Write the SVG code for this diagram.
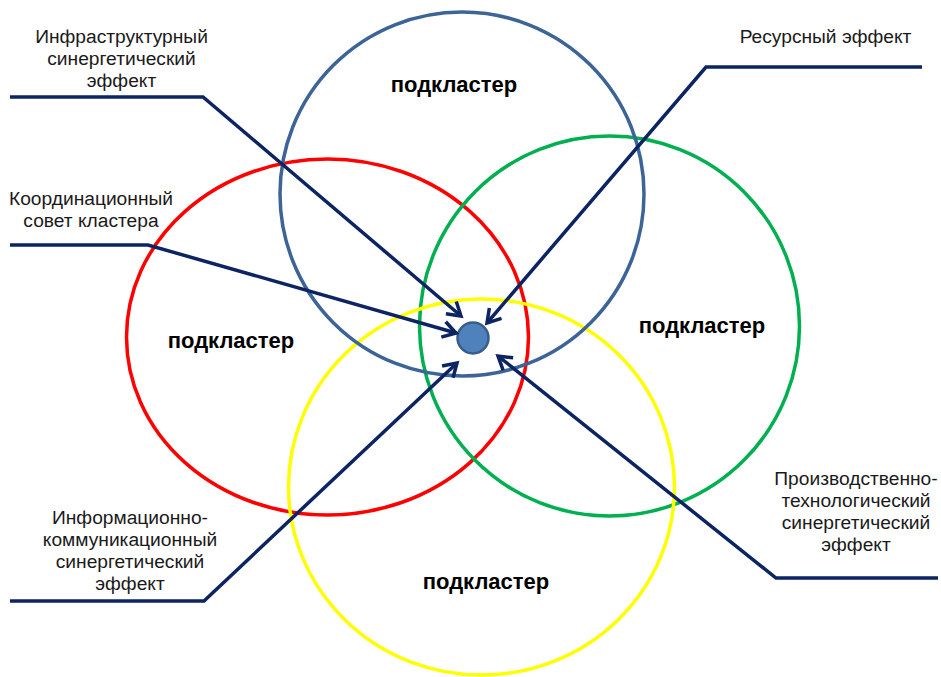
<svg xmlns="http://www.w3.org/2000/svg" width="941" height="677" viewBox="0 0 941 677">
<defs>
<style>
.c{fill:none;stroke-width:3.5}
.lbl{font-family:"Liberation Sans",Arial,sans-serif;font-size:19.2px;fill:#1a1a1a;text-anchor:middle}
.sub{font-family:"Liberation Sans",Arial,sans-serif;font-size:22px;font-weight:bold;fill:#000;text-anchor:middle}
.ar{fill:none;stroke:#0C2461;stroke-width:3.5;stroke-linejoin:miter}
</style>
<marker id="ah" markerUnits="userSpaceOnUse" markerWidth="20" markerHeight="20" viewBox="-16 -10 20 20" refX="0" refY="0" orient="auto">
<path d="M-13,-8 L0,0 L-13,8" fill="none" stroke="#0C2461" stroke-width="3.5"/>
</marker>
</defs>
<rect width="941" height="677" fill="#fff"/>
<g id="node-red"><ellipse class="c" cx="327.5" cy="337" rx="201" ry="178" stroke="#FF0000"/><text class="sub" x="231" y="348">подкластер</text></g>
<g id="node-green"><ellipse class="c" cx="609.5" cy="326" rx="190" ry="190" stroke="#00B050"/><text class="sub" x="702" y="333">подкластер</text></g>
<g id="node-yellow"><ellipse class="c" cx="481.5" cy="487" rx="193" ry="188" stroke="#FFFF00"/><text class="sub" x="486" y="589">подкластер</text></g>
<g id="node-blue"><ellipse class="c" cx="462" cy="194" rx="182" ry="182" stroke="#3C6496"/><text class="sub" x="454" y="92">подкластер</text></g>
<g id="node-center"><circle cx="473" cy="338" r="15.5" fill="#4F81BD" stroke="#385D8A" stroke-width="2.5"/></g>
<g id="connectors">
<polyline class="ar" points="10,97 203,97 461,316" marker-end="url(#ah)"/>
<polyline class="ar" points="922,67 706,67 487,323" marker-end="url(#ah)"/>
<polyline class="ar" points="10,245 148,245 456,333" marker-end="url(#ah)"/>
<polyline class="ar" points="10,601 204,601 457,363" marker-end="url(#ah)"/>
<polyline class="ar" points="938,578 776,578 498,356" marker-end="url(#ah)"/>
</g>
<g id="label-infra"><text class="lbl"><tspan x="121.5" y="43">Инфраструктурный</tspan><tspan x="121.5" y="65">синергетический</tspan><tspan x="121.5" y="87">эффект</tspan></text></g>
<g id="label-resource"><text class="lbl" x="825.5" y="43">Ресурсный эффект</text></g>
<g id="label-coord"><text class="lbl"><tspan x="91" y="205">Координационный</tspan><tspan x="91" y="227">совет кластера</tspan></text></g>
<g id="label-info"><text class="lbl"><tspan x="130" y="524">Информационно-</tspan><tspan x="130" y="546">коммуникационный</tspan><tspan x="130" y="568">синергетический</tspan><tspan x="130" y="590">эффект</tspan></text></g>
<g id="label-prod"><text class="lbl"><tspan x="856" y="485">Производственно-</tspan><tspan x="856" y="507">технологический</tspan><tspan x="856" y="529">синергетический</tspan><tspan x="856" y="551">эффект</tspan></text></g>
</svg>
